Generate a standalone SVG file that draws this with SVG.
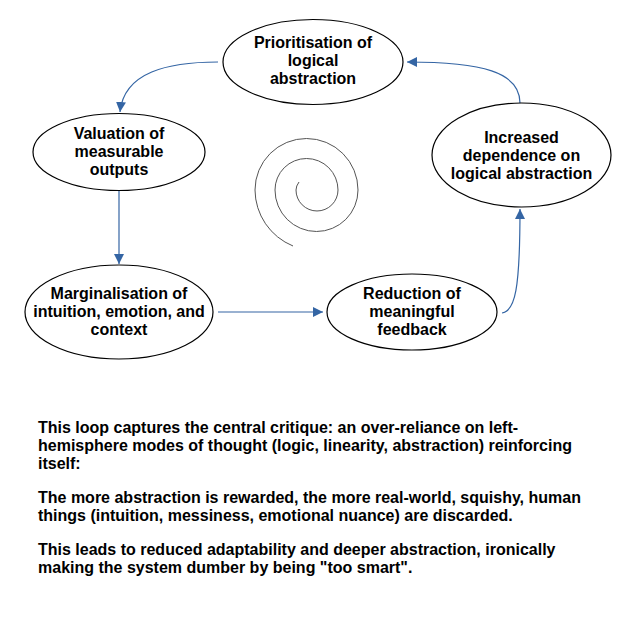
<svg xmlns="http://www.w3.org/2000/svg" width="643" height="643" viewBox="0 0 643 643">
<style>
.node ellipse{fill:#fff;stroke:#000;stroke-width:1.2}
.node text,.para text{font-family:"Liberation Sans",Arial,sans-serif;font-weight:bold;font-size:16px;fill:#000}
.node text{text-anchor:middle}
.conn path{fill:none;stroke:#3465A4;stroke-width:1.2}
</style>
<defs>
<marker id="arr" markerUnits="userSpaceOnUse" markerWidth="12" markerHeight="10" refX="10" refY="5" orient="auto">
<path d="M0,0 L10,5 L0,10 Z" fill="#3465A4"/>
</marker>
</defs>
<rect width="643" height="643" fill="#fff"/>
<g id="connectors" class="conn">
<path d="M218,62 C168,62 124,72 120,112" marker-end="url(#arr)"/>
<path d="M119,190 L119,264" marker-end="url(#arr)"/>
<path d="M218,312 L323,312" marker-end="url(#arr)"/>
<path d="M502,313 C515,311 520,290 520,209" marker-end="url(#arr)"/>
<path d="M520,103 C520,72 482,62 407,62" marker-end="url(#arr)"/>
</g>
<g id="spiral">
<path d="M299,182 Q296,186 296,190 A21,21 0 0 0 338,190 A31.5,31.5 0 0 0 275,190 A41.5,41.5 0 0 0 358,190 A51.5,51.5 0 0 0 255,190 A61,61 0 0 0 293,246" fill="none" stroke="#555" stroke-width="1"/>
</g>
<g id="n1" class="node">
<ellipse cx="313" cy="62" rx="90" ry="42.5"/>
<text x="313" y="48">Prioritisation of</text>
<text x="313" y="66">logical</text>
<text x="313" y="84">abstraction</text>
</g>
<g id="n2" class="node">
<ellipse cx="119" cy="152" rx="86" ry="38.5"/>
<text x="119" y="139">Valuation of</text>
<text x="119" y="157">measurable</text>
<text x="119" y="175">outputs</text>
</g>
<g id="n3" class="node">
<ellipse cx="119" cy="312" rx="94" ry="47"/>
<text x="119" y="299">Marginalisation of</text>
<text x="119" y="317">intuition, emotion, and</text>
<text x="119" y="335">context</text>
</g>
<g id="n4" class="node">
<ellipse cx="412" cy="312" rx="85" ry="38"/>
<text x="412" y="299">Reduction of</text>
<text x="412" y="317">meaningful</text>
<text x="412" y="335">feedback</text>
</g>
<g id="n5" class="node">
<ellipse cx="521.5" cy="155" rx="89.5" ry="52"/>
<text x="521.5" y="143">Increased</text>
<text x="521.5" y="161">dependence on</text>
<text x="521.5" y="179">logical abstraction</text>
</g>
<g id="caption" class="para">
<text x="38" y="433">This loop captures the central critique: an over-reliance on left-</text>
<text x="38" y="451">hemisphere modes of thought (logic, linearity, abstraction) reinforcing</text>
<text x="38" y="469">itself:</text>
<text x="38" y="503">The more abstraction is rewarded, the more real-world, squishy, human</text>
<text x="38" y="521">things (intuition, messiness, emotional nuance) are discarded.</text>
<text x="38" y="555">This leads to reduced adaptability and deeper abstraction, ironically</text>
<text x="38" y="573">making the system dumber by being "too smart".</text>
</g>
</svg>
